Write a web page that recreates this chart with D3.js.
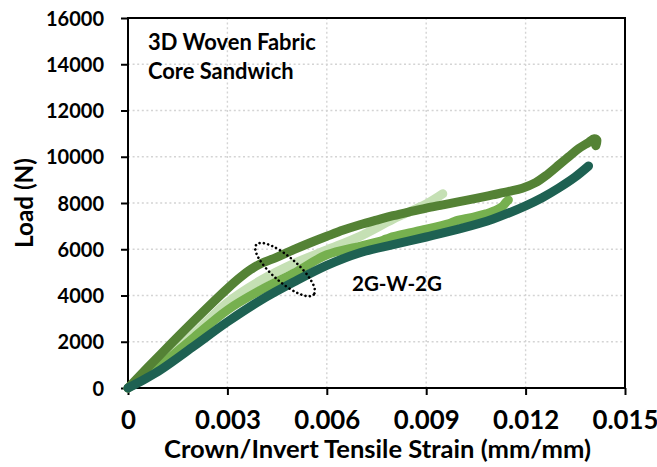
<!DOCTYPE html>
<html><head><meta charset="utf-8">
<script src="https://cdn.jsdelivr.net/npm/d3@7/dist/d3.min.js"></script>
<style>
body{margin:0;background:#fff}
svg{display:block;background:#fff}
text{font-family:Lato,"Open Sans",sans-serif;font-weight:700;fill:#000}
</style>
</head><body>
<svg id="chart" width="657" height="467"></svg>
<script>
// ---- data ----
const xTickValues = [0, 0.003, 0.006, 0.009, 0.012, 0.015];
const xTickLabels = ["0", "0.003", "0.006", "0.009", "0.012", "0.015"];
const yTickValues = [0, 2000, 4000, 6000, 8000, 10000, 12000, 14000, 16000];
const yTickLabels = ["0", "2000", "4000", "6000", "8000", "10000", "12000", "14000", "16000"];

// specimen 1 (dark olive)
const s1Strain = [0, 0.001, 0.002, 0.003, 0.0034, 0.0037, 0.004, 0.0045, 0.005, 0.0055, 0.006, 0.0065, 0.007, 0.0075, 0.008, 0.0085, 0.009, 0.0095, 0.010, 0.0105, 0.011, 0.0115, 0.0119, 0.0123, 0.0126, 0.013, 0.0133, 0.0136, 0.0139, 0.01407, 0.01415, 0.01412];
const s1Load   = [0, 1480, 2920, 4300, 4800, 5120, 5370, 5660, 5980, 6280, 6560, 6830, 7060, 7260, 7450, 7620, 7780, 7920, 8060, 8200, 8350, 8500, 8640, 8880, 9170, 9640, 10000, 10350, 10620, 10780, 10720, 10480];
// specimen 2 (light green)
const s2Strain = [0, 0.0005, 0.001, 0.002, 0.003, 0.004, 0.005, 0.006, 0.007, 0.008, 0.009, 0.0095];
const s2Load   = [0, 500, 1100, 2350, 3700, 4650, 5380, 5970, 6560, 7300, 7960, 8400];
// specimen 3 (medium green)
const s3Strain = [0, 0.0005, 0.001, 0.002, 0.003, 0.004, 0.005, 0.006, 0.007, 0.0077, 0.0079, 0.0087, 0.0097, 0.0099, 0.0104, 0.0108, 0.0111, 0.0113, 0.01142, 0.01148];
const s3Load   = [0, 450, 1000, 2200, 3370, 4230, 4960, 5760, 6130, 6390, 6500, 6770, 7110, 7230, 7380, 7530, 7680, 7850, 8050, 8130];
// specimen 4 (dark teal)
const s4Strain = [0, 0.0005, 0.001, 0.002, 0.003, 0.004, 0.005, 0.006, 0.007, 0.008, 0.009, 0.010, 0.011, 0.012, 0.0125, 0.013, 0.0135, 0.0139];
const s4Load   = [0, 380, 800, 1820, 2860, 3790, 4580, 5300, 5850, 6200, 6530, 6880, 7300, 7880, 8230, 8650, 9130, 9600];

const seriesColors = ["#C5E0B4", "#76B04F", "#548235", "#1E6152"];

// ---- chart ----
const svg = d3.select("#chart");
const x = d3.scaleLinear().domain([0, 0.015]).range([128, 625]);
const y = d3.scaleLinear().domain([0, 16000]).range([388, 18]);

function fitWidth(sel, w) {
  const n = sel.node();
  const cur = n.getComputedTextLength();
  const fs = parseFloat(sel.attr("font-size"));
  const nf = fs * w / cur;
  sel.attr("font-size", nf);
  return nf;
}

// gridlines
const grid = svg.append("g").attr("class", "grid");
grid.selectAll("line.v").data(xTickValues.slice(1, -1)).join("line")
  .attr("x1", d => x(d)).attr("x2", d => x(d)).attr("y1", y(0)).attr("y2", y(16000));
grid.selectAll("line.h").data(yTickValues.slice(1, -1)).join("line")
  .attr("x1", x(0)).attr("x2", x(0.015)).attr("y1", d => y(d)).attr("y2", d => y(d));
grid.selectAll("line").attr("stroke", "#d4d4d4").attr("stroke-width", 1.4)
  .attr("stroke-dasharray", "2,2.6");

// frame
svg.append("rect").attr("x", x(0)).attr("y", y(16000))
  .attr("width", x(0.015) - x(0)).attr("height", y(0) - y(16000))
  .attr("fill", "none").attr("stroke", "#000").attr("stroke-width", 2);

// axes
const xAxis = d3.axisBottom(x).tickValues(xTickValues)
  .tickFormat((d, i) => xTickLabels[i]).tickSize(7).tickPadding(11);
const gx = svg.append("g").attr("transform", `translate(0,${y(0)})`).call(xAxis);
const yAxis = d3.axisLeft(y).tickValues(yTickValues)
  .tickFormat((d, i) => yTickLabels[i]).tickSize(7).tickPadding(17);
const gy = svg.append("g").attr("transform", `translate(${x(0)},0)`).call(yAxis);
[gx, gy].forEach(g => {
  g.select(".domain").remove();
  g.selectAll(".tick line").attr("stroke", "#000").attr("stroke-width", 2);
  g.selectAll("text").attr("fill", "#000");
  g.attr("font-family", null).attr("font-size", null);
});
gx.selectAll("text").attr("font-size", 20);
const fsx = fitWidth(gx.selectAll("text").filter((d, i) => i === 1), 66);
gx.selectAll("text").attr("font-size", fsx).attr("dy", null).attr("y", 40.5);
gy.selectAll("text").attr("font-size", 20);
const fsy = fitWidth(gy.selectAll("text").filter((d, i) => i === 8), 58);
gy.selectAll("text").attr("font-size", fsy).attr("dy", "0.36em");

// series
const line = d3.line().x(d => x(d[0])).y(d => y(d[1])).curve(d3.curveCatmullRom.alpha(0.5));
const series = [
  d3.zip(s2Strain, s2Load),
  d3.zip(s3Strain, s3Load),
  d3.zip(s1Strain, s1Load),
  d3.zip(s4Strain, s4Load)
];
svg.append("g").selectAll("path").data(series).join("path")
  .attr("d", line)
  .attr("fill", "none")
  .attr("stroke", (d, i) => seriesColors[i])
  .attr("stroke-width", 9)
  .attr("stroke-linecap", "round")
  .attr("stroke-linejoin", "round");

// dotted ellipse annotation
const ellCx = 0.00474, ellCy = 5120;
svg.append("ellipse")
  .attr("cx", 0).attr("cy", 0).attr("rx", 38).attr("ry", 12.5)
  .attr("transform", `translate(${x(ellCx)},${y(ellCy)}) rotate(41)`)
  .attr("fill", "none").attr("stroke", "#000").attr("stroke-width", 2.6)
  .attr("stroke-linecap", "round").attr("stroke-dasharray", "0,4.4");

// annotation texts
const t1 = svg.append("text").attr("x", 148).attr("y", 50).attr("font-size", 18).text("3D Woven Fabric");
fitWidth(t1, 168);
const t2 = svg.append("text").attr("x", 148).attr("y", 79).attr("font-size", t1.attr("font-size")).text("Core Sandwich");
const t3 = svg.append("text").attr("x", 352).attr("y", 291).attr("font-size", 18).text("2G-W-2G");
fitWidth(t3, 90);

// axis titles
const xt = svg.append("text").attr("x", 377.5).attr("y", 458).attr("text-anchor", "middle")
  .attr("font-size", 22).text("Crown/Invert Tensile Strain (mm/mm)");
fitWidth(xt, 427);
const yt = svg.append("text").attr("transform", "translate(33,203) rotate(-90)")
  .attr("text-anchor", "middle").attr("font-size", 24).text("Load (N)");
fitWidth(yt, 90);
</script>
</body></html>
